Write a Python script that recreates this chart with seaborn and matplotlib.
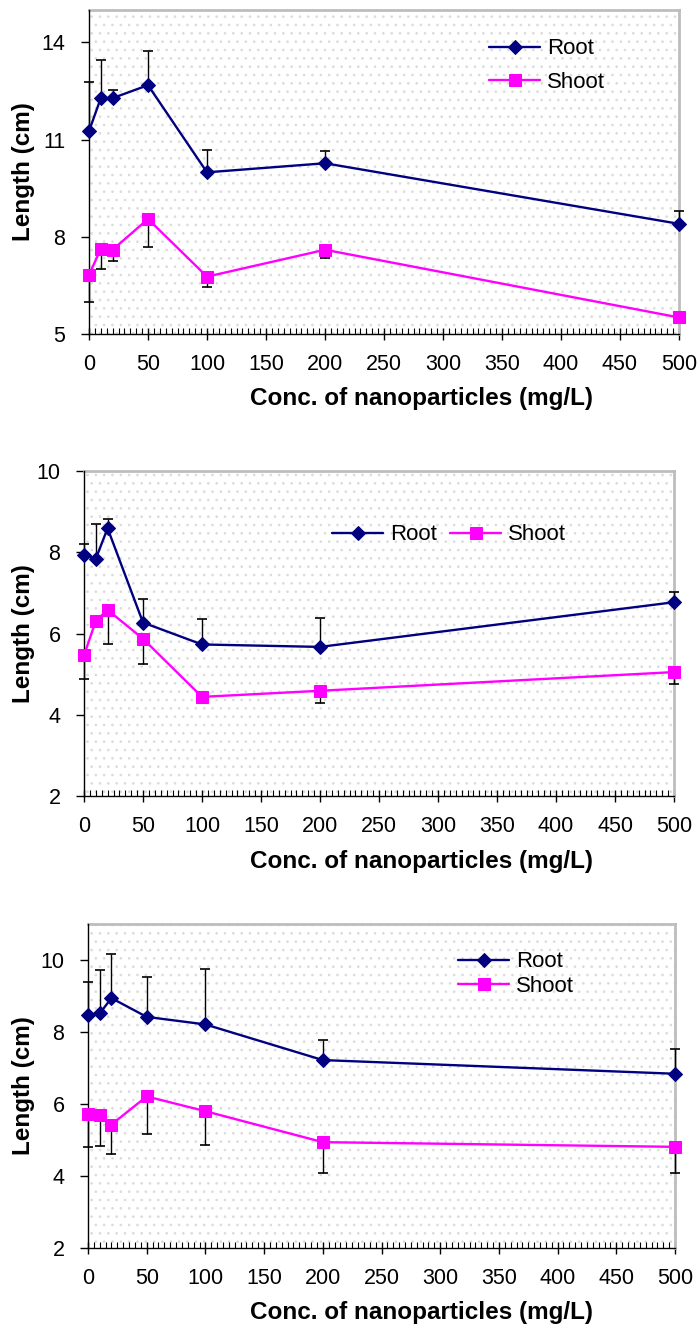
import numpy as np
import pandas as pd
import matplotlib
matplotlib.use("Agg")
import matplotlib.pyplot as plt
from matplotlib.patches import Rectangle
from matplotlib.ticker import MultipleLocator
import seaborn as sns

# ---------------- data ----------------
conc = [0, 10, 20, 50, 100, 200, 500]

p1_root = [11.26, 12.28, 12.28, 12.68, 9.99, 10.27, 8.40]
p1_root_err = [1.53, 1.19, 0.24, 1.07, 0.68, 0.37, 0.40]
p1_shoot = [6.82, 7.63, 7.60, 8.55, 6.77, 7.60, 5.51]
p1_shoot_err = [0.82, 0.63, 0.34, 0.88, 0.32, 0.26, 0.0]

p2_root = [7.94, 7.84, 8.59, 6.27, 5.73, 5.67, 6.77]
p2_root_err = [0.27, 0.86, 0.23, 0.58, 0.63, 0.72, 0.24]
p2_shoot = [5.46, 6.31, 6.58, 5.87, 4.44, 4.59, 5.05]
p2_shoot_err = [0.58, 0.0, 0.84, 0.62, 0.0, 0.31, 0.30]

p3_root = [8.48, 8.52, 8.94, 8.42, 8.21, 7.22, 6.84]
p3_root_err = [0.92, 1.20, 1.22, 1.12, 1.54, 0.56, 0.70]
p3_shoot = [5.71, 5.69, 5.43, 6.21, 5.80, 4.94, 4.81]
p3_shoot_err = [0.91, 0.86, 0.83, 1.05, 0.94, 0.87, 0.74]

series_names = ["Root", "Shoot"]
x_label = "Conc. of nanoparticles (mg/L)"
y_label = "Length (cm)"

# ---------------- style ----------------
sns.set_theme(style="white")
plt.rcParams["font.family"] = ["Liberation Sans", "DejaVu Sans"]
plt.rcParams["hatch.linewidth"] = 0.7
for k in ["text.color", "axes.labelcolor", "xtick.color", "ytick.color"]:
    plt.rcParams[k] = "black"

ROOT_C = "#000080"
SHOOT_C = "#FF00FF"

W, H = 698, 1324
fig = plt.figure(figsize=(W / 100, H / 100), dpi=100)


def px_axes(left, right, top, bottom):
    return fig.add_axes([left / W, 1 - bottom / H, (right - left) / W, (bottom - top) / H])


panels = [
    dict(box=(89, 679, 10, 334), ylim=(5, 15), yticks=[5, 8, 11, 14],
         root=p1_root, rerr=p1_root_err, shoot=p1_shoot, serr=p1_shoot_err,
         leg=dict(ncol=1, x=489, y=65.5, spacing=0.55)),
    dict(box=(84, 674, 471, 796), ylim=(2, 10), yticks=[2, 4, 6, 8, 10],
         root=p2_root, rerr=p2_root_err, shoot=p2_shoot, serr=p2_shoot_err,
         leg=dict(ncol=2, x=332, y=535, spacing=0.3)),
    dict(box=(88, 675, 924, 1248), ylim=(2, 11), yticks=[2, 4, 6, 8, 10],
         root=p3_root, rerr=p3_root_err, shoot=p3_shoot, serr=p3_shoot_err,
         leg=dict(ncol=1, x=458, y=974, spacing=0.15)),
]


def one_sided_err(ax, x, y, err, sign):
    x = np.asarray(x, float)
    y = np.asarray(y, float)
    err = np.asarray(err, float)
    m = err > 0
    end = y + sign * err
    ax.vlines(x[m], y[m], end[m], colors="black", linewidth=1.0, zorder=5, clip_on=False)
    ax.plot(x[m], end[m], ls="none", marker="_", markersize=7, markeredgewidth=1.2,
            color="black", zorder=5, clip_on=False)


for p in panels:
    left, right, top, bottom = p["box"]
    ax = px_axes(left, right, top, bottom)
    ax.set_facecolor("white")
    ax.add_patch(Rectangle((0, 0), 1, 1, transform=ax.transAxes, facecolor="none",
                           edgecolor="#dcdcdc", hatch="..", lw=0, zorder=0))

    df = pd.DataFrame({
        "conc": conc * 2,
        "length": p["root"] + p["shoot"],
        "part": [series_names[0]] * len(conc) + [series_names[1]] * len(conc),
    })

    sns.lineplot(data=df, x="conc", y="length", hue="part", style="part",
                 palette={"Root": ROOT_C, "Shoot": SHOOT_C},
                 markers={"Root": "D", "Shoot": "s"}, dashes=False,
                 linewidth=1.7, ax=ax, zorder=6, clip_on=False)
    for ln in ax.lines:
        c = ln.get_color()
        ln.set_markeredgecolor(c)
        ln.set_markerfacecolor(c)
        if ln.get_marker() == "D":
            ln.set_markersize(7.5)
        elif ln.get_marker() == "s":
            ln.set_markersize(9)

    # one-sided error bars: root upward, shoot downward
    one_sided_err(ax, conc, p["root"], p["rerr"], +1)
    one_sided_err(ax, conc, p["shoot"], p["serr"], -1)

    ax.set_xlim(0, 500)
    ax.set_ylim(*p["ylim"])
    ax.set_yticks(p["yticks"])
    ax.xaxis.set_major_locator(MultipleLocator(50))
    ax.xaxis.set_minor_locator(MultipleLocator(5))

    ax.tick_params(axis="x", which="major", direction="inout", length=9, width=1,
                   color="black", labelsize=15.5, pad=10, bottom=True)
    ax.tick_params(axis="x", which="minor", direction="in", length=4, width=0.8,
                   color="black", bottom=True)
    ax.tick_params(axis="y", which="major", direction="out", length=6, width=1,
                   color="black", labelsize=15.5, pad=11, left=True)

    for s in ["left", "bottom"]:
        ax.spines[s].set_color("black")
        ax.spines[s].set_linewidth(1.0)
        ax.spines[s].set_zorder(4)
    for s in ["top", "right"]:
        ax.spines[s].set_color("#bdbdbd")
        ax.spines[s].set_linewidth(2.0)
        ax.spines[s].set_zorder(1)

    ax.set_xlabel(x_label, fontsize=17.5, fontweight="bold")
    ax.set_ylabel(y_label, fontsize=17.5, fontweight="bold")
    ax.xaxis.set_label_coords((422 - left) / (right - left), -0.165)
    ax.yaxis.set_label_coords((35 - left) / (right - left), 0.5)

    lg = p["leg"]
    handles, labels = ax.get_legend_handles_labels()
    ax.legend(handles, labels, ncol=lg["ncol"], loc="center left",
              bbox_to_anchor=(lg["x"] / W, 1 - lg["y"] / H), bbox_transform=fig.transFigure,
              frameon=False, fontsize=16, handlelength=2.3, handletextpad=0.3,
              borderpad=0, borderaxespad=0, labelspacing=lg["spacing"], columnspacing=0.6,
              title=None)

fig.savefig("out.png", dpi=100)
